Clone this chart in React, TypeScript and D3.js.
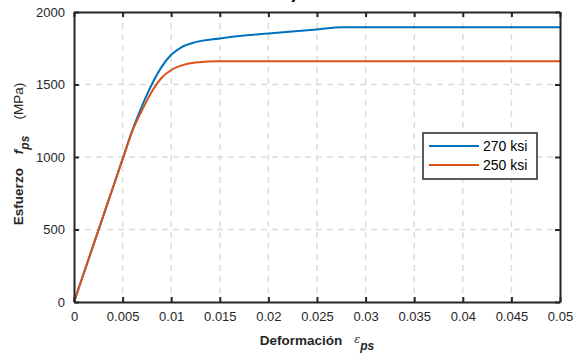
import React, { useRef, useEffect } from "react";
import { select, scaleLinear, axisBottom, axisLeft, axisTop, axisRight, line, curveMonotoneX } from "d3";

// deformación (eje x) y esfuerzo en MPa
const strain270 = [0, 0.005, 0.006, 0.007, 0.008, 0.009, 0.01, 0.011, 0.0125, 0.015, 0.017, 0.02, 0.025, 0.0276, 0.05];
const stress270 = [0, 985, 1183, 1352, 1500, 1620, 1705, 1755, 1792, 1818, 1835, 1852, 1880, 1895, 1895];
const strain250 = [0, 0.005, 0.006, 0.007, 0.008, 0.009, 0.01, 0.011, 0.0125, 0.015, 0.05];
const stress250 = [0, 985, 1178, 1322, 1450, 1545, 1600, 1630, 1651, 1660, 1660];
const seriesNames = ["270 ksi", "250 ksi"];
const xTicks = [0, 0.005, 0.01, 0.015, 0.02, 0.025, 0.03, 0.035, 0.04, 0.045, 0.05];
const xTickLabels = ["0", "0.005", "0.01", "0.015", "0.02", "0.025", "0.03", "0.035", "0.04", "0.045", "0.05"];
const yTicks = [0, 500, 1000, 1500, 2000];
const yTickLabels = ["0", "500", "1000", "1500", "2000"];

const W = 574;
const H = 353;
const margin = { top: 12, right: 14, bottom: 51, left: 74 };
const colors = ["#0072BD", "#D95319"];
const font = "Arial, 'Liberation Sans', Helvetica, sans-serif";

interface Pt {
  x: number;
  y: number;
}

const App: React.FC = () => {
  const svgRef = useRef<SVGSVGElement>(null);

  useEffect(() => {
    const svg = select(svgRef.current);
    svg.selectAll("*").remove();

    const iw = W - margin.left - margin.right;
    const ih = H - margin.top - margin.bottom;

    const x = scaleLinear().domain([0, 0.05]).range([0, iw]);
    const y = scaleLinear().domain([0, 2000]).range([ih, 0]);

    // título (cortado arriba)
    svg
      .append("text")
      .attr("x", 278)
      .attr("y", -1)
      .attr("text-anchor", "middle")
      .attr("font-family", font)
      .attr("font-size", 14)
      .attr("font-weight", "bold")
      .attr("fill", "#000")
      .text("Curvas de trabajo del acero");

    const g = svg.append("g").attr("transform", `translate(${margin.left},${margin.top})`);

    // rejilla
    const grid = g.append("g");
    xTicks.slice(1, -1).forEach((t) => {
      grid
        .append("line")
        .attr("x1", x(t))
        .attr("x2", x(t))
        .attr("y1", 0)
        .attr("y2", ih)
        .attr("stroke", "#dcdcdc")
        .attr("stroke-width", 1.5)
        .attr("stroke-dasharray", "6,5");
    });
    yTicks.slice(1, -1).forEach((t) => {
      grid
        .append("line")
        .attr("x1", 0)
        .attr("x2", iw)
        .attr("y1", y(t))
        .attr("y2", y(t))
        .attr("stroke", "#dcdcdc")
        .attr("stroke-width", 1.5)
        .attr("stroke-dasharray", "6,5");
    });

    // curvas
    const lineGen = line<Pt>()
      .x((d) => x(d.x))
      .y((d) => y(d.y))
      .curve(curveMonotoneX);
    const series: Pt[][] = [
      strain270.map((s, i) => ({ x: s, y: stress270[i] })),
      strain250.map((s, i) => ({ x: s, y: stress250[i] })),
    ];
    series.forEach((d, i) => {
      g.append("path")
        .datum(d)
        .attr("fill", "none")
        .attr("stroke", colors[i])
        .attr("stroke-width", 2)
        .attr("d", lineGen);
    });

    // ejes (ticks hacia dentro)
    const xAxisG = g
      .append("g")
      .attr("transform", `translate(0,${ih})`)
      .call(
        axisBottom(x)
          .tickValues(xTicks)
          .tickSizeInner(-5)
          .tickSizeOuter(0)
          .tickPadding(10)
          .tickFormat((_, i) => xTickLabels[i])
      );
    const yAxisG = g.append("g").call(
      axisLeft(y)
        .tickValues(yTicks)
        .tickSizeInner(-5)
        .tickSizeOuter(0)
        .tickPadding(9)
        .tickFormat((_, i) => yTickLabels[i])
    );
    const topG = g.append("g").call(axisTop(x).tickValues(xTicks).tickSizeInner(-5).tickSizeOuter(0).tickFormat(() => ""));
    const rightG = g
      .append("g")
      .attr("transform", `translate(${iw},0)`)
      .call(axisRight(y).tickValues(yTicks).tickSizeInner(-5).tickSizeOuter(0).tickFormat(() => ""));

    [xAxisG, yAxisG, topG, rightG].forEach((a) => {
      a.selectAll("path").attr("stroke", "#262626").attr("stroke-width", 2);
      a.selectAll("line").attr("stroke", "#262626").attr("stroke-width", 2);
      a.selectAll("text").attr("fill", "#262626").attr("font-size", 13).attr("font-family", font);
    });

    // leyenda
    const leg = svg.append("g").attr("transform", "translate(423,133)");
    leg
      .append("rect")
      .attr("width", 114)
      .attr("height", 46)
      .attr("fill", "#fff")
      .attr("stroke", "#262626")
      .attr("stroke-width", 1.5);
    seriesNames.forEach((name, i) => {
      const ry = 13 + i * 19;
      leg
        .append("line")
        .attr("x1", 6)
        .attr("x2", 56)
        .attr("y1", ry)
        .attr("y2", ry)
        .attr("stroke", colors[i])
        .attr("stroke-width", 2);
      leg
        .append("text")
        .attr("x", 60)
        .attr("y", ry + 5)
        .attr("font-family", font)
        .attr("font-size", 14)
        .attr("fill", "#000")
        .text(name);
    });

    // etiqueta eje x
    const xl = svg
      .append("text")
      .attr("x", margin.left + iw / 2)
      .attr("y", 345)
      .attr("text-anchor", "middle")
      .attr("font-family", font)
      .attr("font-size", 13.5)
      .attr("fill", "#262626");
    xl.append("tspan").attr("font-weight", "bold").text("Deformación");
    xl.append("tspan")
      .attr("dx", 12)
      .attr("dy", -2)
      .attr("font-style", "italic")
      .attr("font-family", "'DejaVu Serif', serif")
      .attr("font-size", 11)
      .text("ε");
    xl.append("tspan").attr("dy", 7).attr("font-weight", "bold").attr("font-style", "italic").attr("font-size", 12).text("ps");

    // etiqueta eje y
    const yl = svg
      .append("text")
      .attr("transform", `translate(23,154) rotate(-90)`)
      .attr("text-anchor", "middle")
      .attr("font-family", font)
      .attr("font-size", 13.5)
      .attr("fill", "#262626");
    yl.append("tspan").attr("font-weight", "bold").text("Esfuerzo");
    yl.append("tspan").attr("dx", 14).attr("font-weight", "bold").attr("font-style", "italic").text("f");
    yl.append("tspan").attr("dy", 6).attr("font-weight", "bold").attr("font-style", "italic").attr("font-size", 12).text("ps");
    yl.append("tspan").attr("dy", -6).attr("dx", 16).text("(MPa)");
  }, []);

  return (
    <svg
      ref={svgRef}
      width={W}
      height={H}
      viewBox={`0 0 ${W} ${H}`}
      style={{ position: "absolute", left: 0, top: 0, background: "#fff", display: "block" }}
    />
  );
};

export default App;
